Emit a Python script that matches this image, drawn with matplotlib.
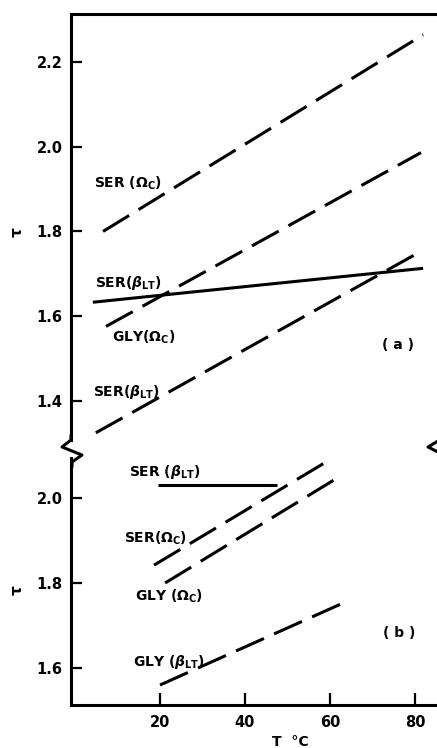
import matplotlib
matplotlib.use('Agg')
import matplotlib.pyplot as plt
from matplotlib.lines import Line2D

plt.rcParams['font.family'] = ['DejaVu Sans']
plt.rcParams['font.weight'] = 'bold'
plt.rcParams['mathtext.fontset'] = 'custom'
plt.rcParams['mathtext.rm'] = 'DejaVu Sans:bold'
plt.rcParams['mathtext.it'] = 'DejaVu Sans:italic:bold'
plt.rcParams['mathtext.bf'] = 'DejaVu Sans:bold'
plt.rcParams['lines.scale_dashes'] = False

# ---------------- data ----------------
# panel (a)
a_ser_omega_T = [6.6, 81.9]
a_ser_omega_tau = [1.80, 2.264]
a_gly_omega_T = [7.3, 81.4]
a_gly_omega_tau = [1.576, 1.986]
a_ser_beta_solid_T = [4.2, 81.9]
a_ser_beta_solid_tau = [1.633, 1.713]
a_ser_beta_dash_T = [4.9, 81.9]
a_ser_beta_dash_tau = [1.325, 1.756]
# panel (b)
b_ser_beta_T = [19.5, 47.5]
b_ser_beta_tau = [2.031, 2.031]
b_ser_omega_T = [18.6, 59.8]
b_ser_omega_tau = [1.842, 2.089]
b_gly_omega_T = [21.2, 61.7]
b_gly_omega_tau = [1.80, 2.047]
b_gly_beta_T = [20.0, 63.1]
b_gly_beta_tau = [1.56, 1.753]

a_yticks = [1.4, 1.6, 1.8, 2.0, 2.2]
a_yticklabels = ['1.4', '1.6', '1.8', '2.0', '2.2']
b_yticks = [1.6, 1.8, 2.0]
b_yticklabels = ['1.6', '1.8', '2.0']
xticks = [20, 40, 60, 80]
xticklabels = ['20', '40', '60', '80']

# ---------------- layout ----------------
W, H = 437, 748
fig = plt.figure(figsize=(W / 100, H / 100), dpi=100)


def fx(x):
    return x / W


def fy(y):
    return 1 - y / H


L, R = 71, 438
axA = fig.add_axes([fx(L), fy(440), (R - L) / W, (440 - 14) / H])
axB = fig.add_axes([fx(L), fy(705), (R - L) / W, (705 - 458) / H])

xlim = (-0.94, 85.4)
axA.set_xlim(*xlim)
axB.set_xlim(*xlim)
axA.set_ylim(1.308, 2.313)
axB.set_ylim(1.513, 2.094)

for ax in (axA, axB):
    for s in ax.spines.values():
        s.set_linewidth(2.2)
    ax.spines['right'].set_visible(False)
    ax.tick_params(direction='in', length=8, width=1.6, pad=6, labelsize=10.5)
axA.spines['bottom'].set_visible(False)
axB.spines['top'].set_visible(False)

axA.set_xticks([])
axA.set_yticks(a_yticks)
axA.set_yticklabels(a_yticklabels)
axB.set_yticks(b_yticks)
axB.set_yticklabels(b_yticklabels)
axB.set_xticks(xticks)
axB.set_xticklabels(xticklabels)
axB.tick_params(axis='x', length=9, pad=7)

lw = 2.2
dash = (22, 8)
kw = dict(color='black', lw=lw, solid_capstyle='butt', clip_on=False)
axA.plot(a_ser_omega_T, a_ser_omega_tau, dashes=dash, **kw)
axA.plot(a_gly_omega_T, a_gly_omega_tau, dashes=dash, **kw)
axA.plot(a_ser_beta_solid_T, a_ser_beta_solid_tau, **kw)
axA.plot(a_ser_beta_dash_T, a_ser_beta_dash_tau, dashes=dash, **kw)

axB.plot(b_ser_beta_T, b_ser_beta_tau, **kw)
axB.plot(b_ser_omega_T, b_ser_omega_tau, dashes=dash, **kw)
axB.plot(b_gly_omega_T, b_gly_omega_tau, dashes=dash, **kw)
axB.plot(b_gly_beta_T, b_gly_beta_tau, dashes=dash, **kw)

# ---------------- labels ----------------
fs = 10
labels = [
    (94, 183, r'SER ($\Omega_{\mathrm{C}}$)'),
    (95, 283, r'SER($\beta_{\mathrm{LT}}$)'),
    (112, 337, r'GLY($\Omega_{\mathrm{C}}$)'),
    (382, 345, '( a )'),
    (93, 392, r'SER($\beta_{\mathrm{LT}}$)'),
    (129, 472, r'SER ($\beta_{\mathrm{LT}}$)'),
    (124, 538, r'SER($\Omega_{\mathrm{C}}$)'),
    (135, 596, r'GLY ($\Omega_{\mathrm{C}}$)'),
    (383, 633, '( b )'),
    (133, 662, r'GLY ($\beta_{\mathrm{LT}}$)'),
]
for x, y, s in labels:
    fig.text(fx(x), fy(y), s, ha='left', va='center', fontsize=fs)

fig.text(fx(17), fy(232), 'τ', rotation=90, ha='center', va='center', fontsize=11)
fig.text(fx(17), fy(590), 'τ', rotation=90, ha='center', va='center', fontsize=11)
fig.text(fx(290), fy(742), 'T  °C', ha='center', va='center', fontsize=10)

# axis break marks
zig_x = [71, 71, 62, 82, 72, 72]
zig_y = [436, 440, 447, 455, 462, 466]
fig.add_artist(Line2D([fx(v) for v in zig_x], [fy(v) for v in zig_y],
                      color='black', lw=2.2, transform=fig.transFigure))
rz_x = [438, 428, 438]
rz_y = [441, 447, 452]
fig.add_artist(Line2D([fx(v) for v in rz_x], [fy(v) for v in rz_y],
                      color='black', lw=2.2, transform=fig.transFigure))

fig.savefig('out.png', dpi=100)
